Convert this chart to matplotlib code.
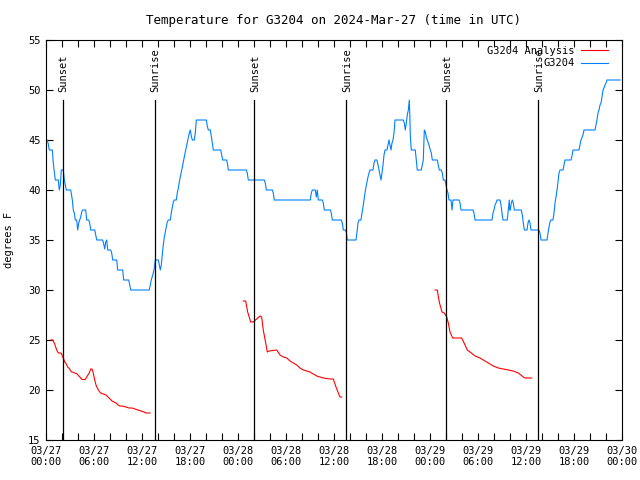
import numpy as np
import matplotlib
matplotlib.use('Agg')
import matplotlib.pyplot as plt

# hours since 03/27 00:00 UTC
obs_hours = [0.16, 0.29, 0.41, 0.79, 0.91, 1.04, 1.16, 1.54, 1.66, 1.79, 1.91, 2.16, 2.29, 2.41, 2.54, 3.09,
             3.29, 3.41, 3.54, 3.66, 3.84, 3.96, 4.09, 4.21, 4.34, 4.46, 4.59, 4.96, 5.09, 5.34, 5.46, 5.59,
             6.09, 6.21, 6.34, 7.09, 7.21, 7.34, 7.46, 7.59, 7.71, 8.09, 8.21, 8.34, 8.84, 8.96, 9.59, 9.71,
             10.34, 10.46, 10.59, 12.91, 13.04, 13.16, 13.41, 13.54, 13.66, 14.04, 14.29, 14.41, 14.54, 14.66,
             14.79, 14.91, 15.04, 15.16, 15.29, 15.54, 15.66, 15.79, 15.91, 16.04, 16.29, 16.41, 16.54, 16.66,
             16.79, 16.91, 17.04, 17.16, 17.29, 17.41, 17.54, 17.66, 17.79, 17.91, 18.04, 18.16, 18.29, 18.54,
             18.66, 18.79, 20.04, 20.16, 20.29, 20.54, 20.66, 20.79, 20.91, 21.84, 21.96, 22.09, 22.59, 22.71,
             22.79, 25.04, 25.16, 25.29, 27.29, 27.41, 27.54, 28.29, 28.41, 28.54, 33.04, 33.16, 33.29, 33.66,
             33.79, 33.91, 34.04, 34.54, 34.66, 34.79, 35.54, 35.66, 35.79, 36.91, 37.04, 37.16, 37.41, 37.54,
             37.66, 38.75, 38.875, 39.0, 39.125, 39.375, 39.5, 39.625, 39.75, 39.875, 40.0, 40.125, 40.25,
             40.375, 40.5, 40.875, 41.0, 41.125, 41.375, 41.5, 41.625, 41.75, 41.875, 42.0, 42.125, 42.25,
             42.375, 42.625, 42.75, 42.875, 43.0, 43.125, 43.25, 43.375, 43.5, 43.625, 44.66, 44.79, 44.91,
             45.04, 45.16, 45.29, 45.41, 45.47, 45.54, 45.66, 46.16, 46.29, 46.41, 46.91, 47.04, 47.16, 47.29,
             47.41, 47.54, 47.66, 47.79, 47.91, 48.04, 48.16, 48.29, 48.91, 49.04, 49.16, 49.41, 49.54, 49.66,
             49.875, 50.0, 50.125, 50.25, 50.375, 50.625, 50.75, 50.875, 51.625, 51.75, 51.875, 53.375, 53.5,
             53.625, 55.75, 55.875, 56.0, 56.125, 56.25, 56.375, 56.75, 56.875, 57.0, 57.125, 57.66, 57.79,
             57.91, 57.97, 58.04, 58.16, 58.29, 58.41, 58.54, 59.41, 59.54, 59.66, 59.79, 60.125, 60.25,
             60.375, 60.5, 60.625, 61.625, 61.75, 61.875, 62.625, 62.75, 62.875, 63.0, 63.125, 63.375, 63.5,
             63.625, 63.75, 63.875, 64.0, 64.125, 64.25, 64.625, 64.75, 64.875, 65.625, 65.75, 65.875, 66.625,
             66.75, 66.875, 67.125, 67.25, 68.625, 68.75, 68.875, 69.0, 69.125, 69.25, 69.375, 69.5, 69.625,
             69.75, 69.875, 70.0, 70.125, 71.75]
obs_temp = [45.0, 44.6, 44.0, 44.0, 42.7, 41.8, 41.0, 41.0, 40.0, 40.5, 42.0, 42.0, 41.0, 40.5, 40.0, 40.0,
            39.0, 38.0, 37.7, 37.0, 37.0, 36.0, 36.7, 37.0, 37.3, 37.8, 38.0, 38.0, 37.0, 37.0, 36.7, 36.0,
            36.0, 35.5, 35.0, 35.0, 34.6, 34.1, 34.8, 35.0, 34.0, 34.0, 33.7, 33.0, 33.0, 32.0, 32.0, 31.0,
            31.0, 30.5, 30.0, 30.0, 30.5, 31.0, 31.7, 32.2, 33.0, 33.0, 32.0, 32.5, 33.5, 34.5,
            35.3, 35.8, 36.3, 36.8, 37.0, 37.0, 37.7, 38.3, 38.8, 39.0, 39.0, 39.7, 40.2, 40.8,
            41.3, 41.8, 42.3, 42.8, 43.3, 43.8, 44.3, 44.8, 45.3, 45.7, 46.0, 45.4, 45.0, 45.0,
            45.7, 47.0, 47.0, 46.4, 46.0, 46.0, 45.4, 44.7, 44.0, 44.0, 43.5, 43.0, 43.0, 42.5,
            42.0, 42.0, 41.7, 41.0, 41.0, 40.7, 40.0, 40.0, 39.7, 39.0, 39.0, 39.7, 40.0, 40.0,
            39.3, 40.0, 39.0, 39.0, 38.7, 38.0, 38.0, 37.7, 37.0, 37.0, 36.7, 36.0, 36.0, 35.8,
            35.0, 35.0, 35.8, 36.7, 37.0, 37.0, 37.7, 38.3, 39.0, 39.7, 40.3, 40.8, 41.3,
            41.7, 42.0, 42.0, 42.7, 43.0, 43.0, 42.5, 42.0, 41.5, 41.0, 41.7, 42.5, 43.5,
            44.0, 44.0, 44.5, 45.0, 44.5, 44.0, 44.7, 45.0, 45.7, 47.0, 47.0, 46.7, 46.0,
            46.7, 47.5, 48.0, 49.0, 47.7, 45.4, 44.0, 44.0, 43.0, 42.0, 42.0, 42.5, 43.0, 46.0,
            45.8, 45.3, 45.0, 44.7, 44.4, 44.0, 43.7, 43.0, 43.0, 42.5, 42.0, 42.0, 41.7, 41.0,
            41.0, 40.5, 40.0, 39.7, 39.0, 39.0, 38.0, 39.0, 39.0, 38.7, 38.0, 38.0, 37.7,
            37.0, 37.0, 37.7, 38.0, 38.5, 38.7, 39.0, 39.0, 38.5, 37.7, 37.0, 37.0, 38.0,
            39.0, 38.0, 38.0, 38.7, 39.0, 38.7, 38.0, 38.0, 37.5, 36.7, 36.0, 36.0, 36.7,
            37.0, 36.7, 36.0, 36.0, 35.7, 35.0, 35.0, 35.7, 36.3, 36.8, 37.0, 37.0, 37.7,
            38.7, 39.3, 40.0, 40.8, 41.7, 42.0, 42.0, 42.5, 43.0, 43.0, 43.4, 44.0, 44.0,
            44.5, 45.0, 45.5, 46.0, 46.0, 46.5, 47.0, 47.7, 48.0, 48.5, 48.7, 49.3, 50.0,
            50.2, 50.5, 50.7, 51.0, 51.0]

# analysis runs (three separate pieces)
ana1_hours = [0.59, 0.84, 0.96, 1.09, 1.21, 1.34, 1.46, 1.59, 1.84, 1.96, 2.09, 2.21, 2.34, 2.46, 2.59, 2.71,
              2.84, 2.96, 3.09, 3.21, 3.34, 3.59, 3.91, 4.09, 4.25, 4.41, 4.59, 4.91, 5.16, 5.41, 5.59, 5.75,
              5.91, 6.09, 6.25, 6.41, 6.63, 6.84, 7.16, 7.5, 7.75, 8.0, 8.25, 8.5, 8.75, 9.0, 9.25, 9.5,
              10.0, 10.38, 10.75, 11.13, 11.5, 11.88, 12.25, 12.5, 13.0]
ana1_temp = [25.0, 25.0, 24.8, 24.6, 24.3, 24.0, 23.8, 23.7, 23.7, 23.6, 23.3, 23.1, 22.8, 22.7, 22.5, 22.3,
             22.2, 22.1, 21.9, 21.8, 21.8, 21.7, 21.6, 21.4, 21.3, 21.1, 21.05, 21.05, 21.4, 21.7, 22.1, 22.1,
             21.7, 21.0, 20.5, 20.2, 19.9, 19.7, 19.6, 19.5, 19.3, 19.1, 18.9, 18.8, 18.7, 18.5, 18.4, 18.4,
             18.3, 18.2, 18.2, 18.1, 18.0, 17.9, 17.8, 17.7, 17.7]
ana2_hours = [24.66, 24.96, 25.21, 25.59, 25.91, 26.75, 26.96, 27.16, 27.46, 27.66, 27.88, 28.84, 29.25,
              29.66, 30.09, 30.5, 30.91, 31.34, 31.75, 32.16, 32.59, 33.0, 33.41, 33.84, 34.25, 34.66,
              35.5, 35.91, 36.25, 36.54, 36.75, 36.96]
ana2_temp = [28.9, 28.9, 27.8, 26.8, 26.8, 27.4, 27.3, 26.0, 24.7, 23.8, 23.9, 24.0, 23.5,
             23.3, 23.2, 22.9, 22.7, 22.5, 22.2, 22.0, 21.9, 21.8, 21.6, 21.4, 21.3, 21.2,
             21.1, 21.1, 20.3, 19.7, 19.3, 19.3]
ana3_hours = [48.63, 48.91, 49.16, 49.5, 49.79, 50.09, 50.29, 50.5, 50.84, 51.96, 52.38, 52.66, 53.0,
              53.63, 54.25, 54.66, 55.29, 55.91, 56.54, 57.16, 57.79, 58.41, 59.04, 59.66, 59.88, 60.71]
ana3_temp = [30.0, 30.0, 28.8, 27.8, 27.7, 27.3, 26.7, 25.8, 25.2, 25.2, 24.5, 24.0, 23.8,
             23.4, 23.2, 23.0, 22.7, 22.4, 22.2, 22.1, 22.0, 21.9, 21.7, 21.3, 21.2, 21.2]

sun_hours = [2.1, 13.6, 26.05, 37.55, 50.05, 61.55]
sun_names = ['Sunset', 'Sunrise', 'Sunset', 'Sunrise', 'Sunset', 'Sunrise']

tick_hours = list(range(0, 73, 2))
tick_names = ['03/27\n00:00', '03/27\n06:00', '03/27\n12:00', '03/27\n18:00',
              '03/28\n00:00', '03/28\n06:00', '03/28\n12:00', '03/28\n18:00',
              '03/29\n00:00', '03/29\n06:00', '03/29\n12:00', '03/29\n18:00', '03/30\n00:00']

#===============================================================================
plt.rcParams['font.family'] = 'DejaVu Sans Mono'
plt.rcParams['font.size'] = 7.5

fig = plt.figure(figsize=(6.4, 4.8), dpi=100)
ax = fig.add_axes([46/640, 40/480, 576/640, 400/480])

red = '#ff0000'
blue = '#0080ff'

ax.plot(ana1_hours, ana1_temp, color=red, lw=0.8, label='G3204 Analysis')
ax.plot(ana2_hours, ana2_temp, color=red, lw=0.8)
ax.plot(ana3_hours, ana3_temp, color=red, lw=0.8)
ax.plot(obs_hours, obs_temp, color=blue, lw=0.8, label='G3204')

# sunrise / sunset markers
for h, name in zip(sun_hours, sun_names):
    ax.plot([h, h], [15, 49], color='black', lw=0.9)
    ax.text(h + 0.1, 49.8, name, rotation=90, ha='center', va='bottom')

ax.set_xlim(0, 72)
ax.set_ylim(15, 55)
ax.set_xticks(tick_hours)
ax.set_xticklabels([tick_names[h // 6] if h % 6 == 0 else '' for h in tick_hours])
ax.set_yticks(range(15, 56, 5))
ax.tick_params(direction='in', length=5, width=0.8, top=True, right=True, pad=4)
for s in ax.spines.values():
    s.set_linewidth(0.8)

ax.set_ylabel('degrees F', labelpad=10)
ax.set_title('Temperature for G3204 on 2024-Mar-27 (time in UTC)', pad=11.5)

ax.legend(loc='upper right', bbox_to_anchor=(0.981, 0.9925), frameon=False, markerfirst=False,
          handlelength=2.6, labelspacing=0.2, borderaxespad=0.2, handletextpad=0.6, borderpad=0.1)

plt.savefig('out.png')
